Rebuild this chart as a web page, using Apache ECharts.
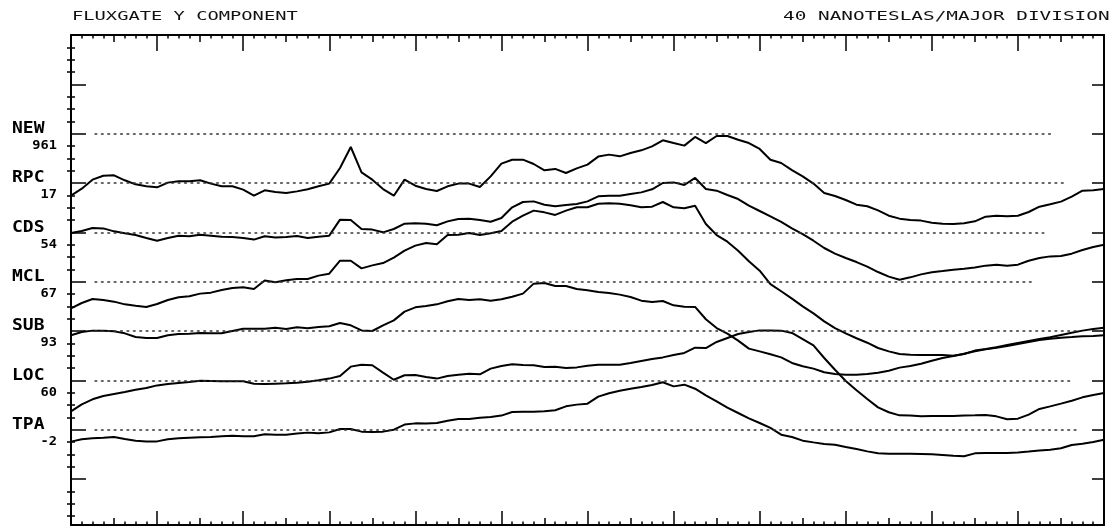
<!DOCTYPE html>
<html><head><meta charset="utf-8">
<script src="https://cdn.jsdelivr.net/npm/echarts@6/dist/echarts.min.js"></script>
<style>html,body{margin:0;padding:0;background:#fff}#c{width:1111px;height:527px}</style>
</head><body><div id="c"></div>
<script>
// sample times (hours of the day)
const hours = [0,0.25,0.5,0.75,1,1.25,1.5,1.75,2,2.25,2.5,2.75,3,3.25,3.5,3.75,4,4.25,4.5,4.75,5,5.25,5.5,5.75,6,6.25,6.5,6.75,7,7.25,7.5,7.75,8,
8.25,8.5,8.75,9,9.25,9.5,9.75,10,10.25,10.5,10.75,11,11.25,11.5,11.75,12,12.25,12.5,12.75,13,13.25,13.5,13.75,14,14.25,14.5,14.75,15,15.25,15.5,15.75,
16,16.25,16.5,16.75,17,17.25,17.5,17.75,18,18.25,18.5,18.75,19,19.25,19.5,19.75,20,20.25,20.5,20.75,21,21.25,21.5,21.75,22,22.25,22.5,22.75,23,23.25,23.5,23.75,24];

// station labels
const stationNames = ['NEW','RPC','CDS','MCL','SUB','LOC','TPA'];
const stationTags  = ['961','17','54','67','93','60','-2'];
// baseline level of each trace on the stacked plot (nT)
const stationLevels = [320,280,240,200,160,120,80];
// where each dotted baseline stops (hours)
const dotEnds = [22.8,23.05,22.6,22.35,23.4,23.2,23.4];

// deviations from baseline (nT)
const rpc = [-10.3,-4.6,2.7,5.9,6.2,2.2,-1.1,-2.7,-3.5,0.3,1.4,1.4,2.2,-0.5,-2.7,-2.7,-5.4,-10.3,-5.9,-7.3,-8.1,-6.8,-5.1,-2.7,-0.5,12.2,29.2,8.6,2.7,-4.9,-10.3,2.7,-2.2,
-4.9,-6.5,-2.7,-0.5,-0.5,-3.2,5.4,15.7,18.9,18.9,15.4,10.3,11.4,8.1,11.9,14.9,21.4,23.0,21.6,24.3,26.5,29.7,34.6,32.4,30.3,37.3,32.4,38.1,38.1,35.1,32.4,
27.6,18.9,16.2,10.5,5.4,-0.5,-8.1,-10.5,-13.8,-17.6,-18.9,-22.2,-26.5,-28.9,-30.0,-30.5,-32.2,-33.0,-33.2,-32.7,-31.1,-27.3,-26.5,-27.0,-26.5,-23.5,-19.2,-17.3,-15.1,-11.1,-6.2,-5.9,-4.9];
const cds = [-0.5,1.1,3.5,3.2,0.8,-0.8,-2.2,-4.6,-6.8,-4.6,-2.7,-3.2,-1.9,-2.7,-3.5,-3.8,-4.6,-5.9,-3.2,-4.1,-3.8,-3.0,-4.6,-3.5,-2.7,10.3,10.0,2.7,2.2,0,2.7,7.0,7.3,
7.0,5.7,8.9,10.8,11.1,10.0,8.6,11.6,20.3,24.6,25.1,22.4,21.1,22.2,23.0,25.1,29.2,29.7,29.7,31.1,32.4,34.9,40.0,40.5,38.4,44.1,35.1,33.8,30.3,27.0,21.6,
17.3,13.0,8.4,3.2,-1.4,-6.8,-12.7,-17.3,-20.8,-24.1,-27.8,-32.2,-35.9,-38.4,-36.5,-34.1,-32.4,-31.4,-30.3,-29.5,-28.6,-27.0,-26.2,-27.0,-26.2,-23.0,-20.8,-19.5,-19.2,-17.3,-14.3,-11.9,-10.0];
const mcl = [-21.6,-17.3,-14.1,-14.9,-16.2,-18.4,-19.5,-20.5,-18.1,-14.9,-12.7,-11.9,-9.7,-8.9,-6.8,-5.1,-4.6,-6.0,1.0,-0.5,1.1,2.2,2.2,4.9,6.5,17.0,17.0,10.8,13.2,15.1,19.5,25.1,29.2,
31.4,30.3,37.8,38.1,39.5,37.8,39.2,41.1,48.6,53.5,57.6,56.2,54.1,57.6,60.3,60.3,63.2,63.5,63.2,61.9,60.3,60.8,64.6,60.3,59.5,61.6,46.8,37.8,32.4,25.1,16.5,
8.9,-2.0,-7.8,-13.8,-20.0,-25.7,-32.2,-37.6,-41.9,-45.9,-49.5,-53.8,-56.5,-58.6,-59.2,-59.5,-59.5,-59.5,-60.0,-58.6,-55.9,-54.6,-53.2,-51.4,-49.7,-48.1,-46.5,-45.1,-43.2,-41.4,-39.7,-38.4,-37.3];
const sub = [-3.5,-0.8,0.3,0.3,-0.3,-1.9,-4.9,-5.7,-5.7,-3.5,-2.4,-2.2,-1.6,-1.9,-1.9,0,1.9,1.9,1.9,2.7,1.6,3.0,2.2,3.2,3.8,6.5,4.6,0.5,0,4.6,8.6,15.7,19.2,
20.3,21.6,24.1,25.9,25.1,25.7,24.6,25.7,27.8,30.3,38.4,38.9,36.5,36.5,34.1,33.0,31.6,30.8,29.5,27.6,24.6,23.5,24.3,20.8,19.7,19.5,9.5,2.4,-2.2,-7.8,-14.3,
-16.5,-18.9,-21.4,-25.9,-28.6,-30.5,-33.5,-34.9,-35.4,-35.4,-34.9,-33.8,-32.2,-29.7,-28.4,-26.5,-24.1,-21.9,-20.3,-18.4,-16.5,-14.9,-13.5,-12.2,-10.5,-8.9,-7.3,-6.2,-5.4,-4.9,-4.3,-4.1,-3.5];
const loc = [-25.1,-19.5,-15.4,-12.7,-11.1,-9.5,-7.6,-6.2,-4.1,-3.0,-2.2,-1.4,-0.3,-0.5,-0.8,-0.8,-0.8,-2.7,-3.0,-2.7,-2.4,-1.9,-1.1,0,1.4,3.5,11.1,12.7,12.2,6.2,0.5,4.1,4.3,
2.7,1.4,3.5,4.6,5.4,4.9,9.5,11.6,13.0,12.4,12.2,10.8,11.1,10.0,10.5,11.9,12.7,12.7,12.7,14.1,15.7,17.3,18.6,20.5,22.2,26.5,26.2,31.1,34.3,37.6,39.2,
40.5,40.5,40.3,38.4,33.5,28.4,18.1,8.6,-0.5,-8.1,-15.1,-21.9,-25.9,-28.4,-28.6,-29.2,-28.9,-28.9,-28.9,-28.6,-28.4,-28.1,-29.2,-31.6,-31.1,-27.8,-23.2,-21.1,-18.9,-16.5,-13.8,-11.9,-10.3];
const tpa = [-9.7,-7.8,-7.0,-6.5,-5.9,-7.6,-8.9,-9.5,-9.5,-7.8,-7.0,-6.5,-6.2,-5.9,-5.4,-4.9,-5.4,-5.4,-3.8,-4.1,-4.1,-3.2,-2.4,-3.0,-2.2,0.5,0.5,-1.6,-1.9,-1.6,0,4.1,5.1,
4.9,5.4,7.3,8.6,8.6,9.7,10.3,11.4,14.3,14.6,14.6,14.9,15.7,18.9,20.3,21.1,26.8,29.5,31.6,33.2,34.6,36.2,38.4,35.1,36.5,33.2,27.8,23.0,17.8,13.5,9.2,
5.4,1.4,-4.1,-5.9,-8.9,-10.3,-11.6,-12.2,-14.1,-15.7,-17.6,-19.2,-19.5,-19.5,-19.5,-19.7,-20.0,-20.5,-21.1,-21.6,-19.2,-18.9,-18.9,-18.9,-18.6,-17.8,-16.8,-16.2,-15.1,-12.4,-11.4,-10.0,-8.1];

const traces = {RPC: rpc, CDS: cds, MCL: mcl, SUB: sub, LOC: loc, TPA: tpa};
const titleLeft = 'FLUXGATE Y COMPONENT';
const titleRight = '40 NANOTESLAS/MAJOR DIVISION';

const Y_MIN = 2.7, Y_MAX = 400;
const yMajor = [], yMinor = [];
for (let v = 10; v < Y_MAX; v += 10) { (v % 40 === 0 ? yMajor : yMinor).push(v); }

const INK = '#000';
const axLine = {show: true, onZero: false, lineStyle: {color: INK, width: 2}};
const tickLS = {color: INK, width: 1.5};

function xAx(pos, interval, len, minor, line) {
  return {type: 'value', min: 0, max: 24, interval: interval, position: pos,
    axisLine: line ? axLine : {show: false},
    axisTick: {show: true, inside: true, length: len, lineStyle: tickLS},
    minorTick: minor ? {show: true, splitNumber: 8, length: 3.5, lineStyle: tickLS} : {show: false},
    axisLabel: {show: false}, splitLine: {show: false}, minorSplitLine: {show: false}};
}
function yAx(pos, values, len, line) {
  return {type: 'value', min: Y_MIN, max: Y_MAX, position: pos,
    axisLine: line ? axLine : {show: false},
    axisTick: {show: true, inside: true, length: len, customValues: values, lineStyle: tickLS},
    axisLabel: {show: false}, splitLine: {show: false}};
}

const series = Object.keys(traces).map(function (name, k) {
  const idx = stationNames.indexOf(name);
  const lv = stationLevels[idx];
  const vals = traces[name];
  return {type: 'line', name: name, xAxisIndex: 0, yAxisIndex: 0,
    symbol: 'none', smooth: false, silent: true,
    lineStyle: {color: INK, width: 2}, z: 3,
    data: hours.map(function (h, i) { return [h, lv + vals[i]]; })};
});
series[0].markLine = {silent: true, symbol: ['none', 'none'], label: {show: false},
  lineStyle: {color: '#333', width: 1.6, type: [1.6, 4.8], cap: 'round'},
  emphasis: {disabled: true},
  data: stationLevels.map(function (lv, i) { return [{coord: [0.56, lv]}, {coord: [dotEnds[i], lv]}]; })};

const chart = echarts.init(document.getElementById('c'), null, {renderer: 'canvas'});
chart.setOption({
  animation: false,
  backgroundColor: '#fff',
  grid: {left: 71, right: 7, top: 35, bottom: 2, containLabel: false},
  xAxis: [xAx('bottom', 2, 14, true, true), xAx('bottom', 1, 7, false, false),
          xAx('top', 2, 16, true, true), xAx('top', 1, 7, false, false)],
  yAxis: [yAx('left', yMajor, 15, true), yAx('left', yMinor, 4, false),
          yAx('right', yMajor, 12, true), yAx('right', yMinor, 4, false)],
  series: series
});

// labels placed through the y scale
const graphics = [
  {type: 'text', x: 72, y: 16.5, scaleX: 1.5, silent: true,
   style: {text: titleLeft, x: 0, y: 0, font: '12.5px "DejaVu Sans Mono"', fill: '#111', textAlign: 'left', textVerticalAlign: 'middle'}},
  {type: 'text', x: 783, y: 16.5, scaleX: 1.55, silent: true,
   style: {text: titleRight, x: 0, y: 0, font: '12.5px "DejaVu Sans Mono"', fill: '#111', textAlign: 'left', textVerticalAlign: 'middle'}}
];
stationLevels.forEach(function (lv, i) {
  const yb = chart.convertToPixel({yAxisIndex: 0}, lv);
  graphics.push({type: 'text', x: 12, y: yb - 4.5, scaleX: 1.2, silent: true,
    style: {text: stationNames[i], x: 0, y: 0, font: 'bold 15px "DejaVu Sans Mono"', fill: INK, textAlign: 'left', textVerticalAlign: 'middle'}});
  graphics.push({type: 'text', x: 57, y: yb + 12, scaleX: 1.05, silent: true,
    style: {text: stationTags[i], x: 0, y: 0, font: 'bold 13px "DejaVu Sans Mono"', fill: INK, textAlign: 'right', textVerticalAlign: 'middle'}});
});
chart.setOption({graphic: graphics});
</script>
</body></html>
